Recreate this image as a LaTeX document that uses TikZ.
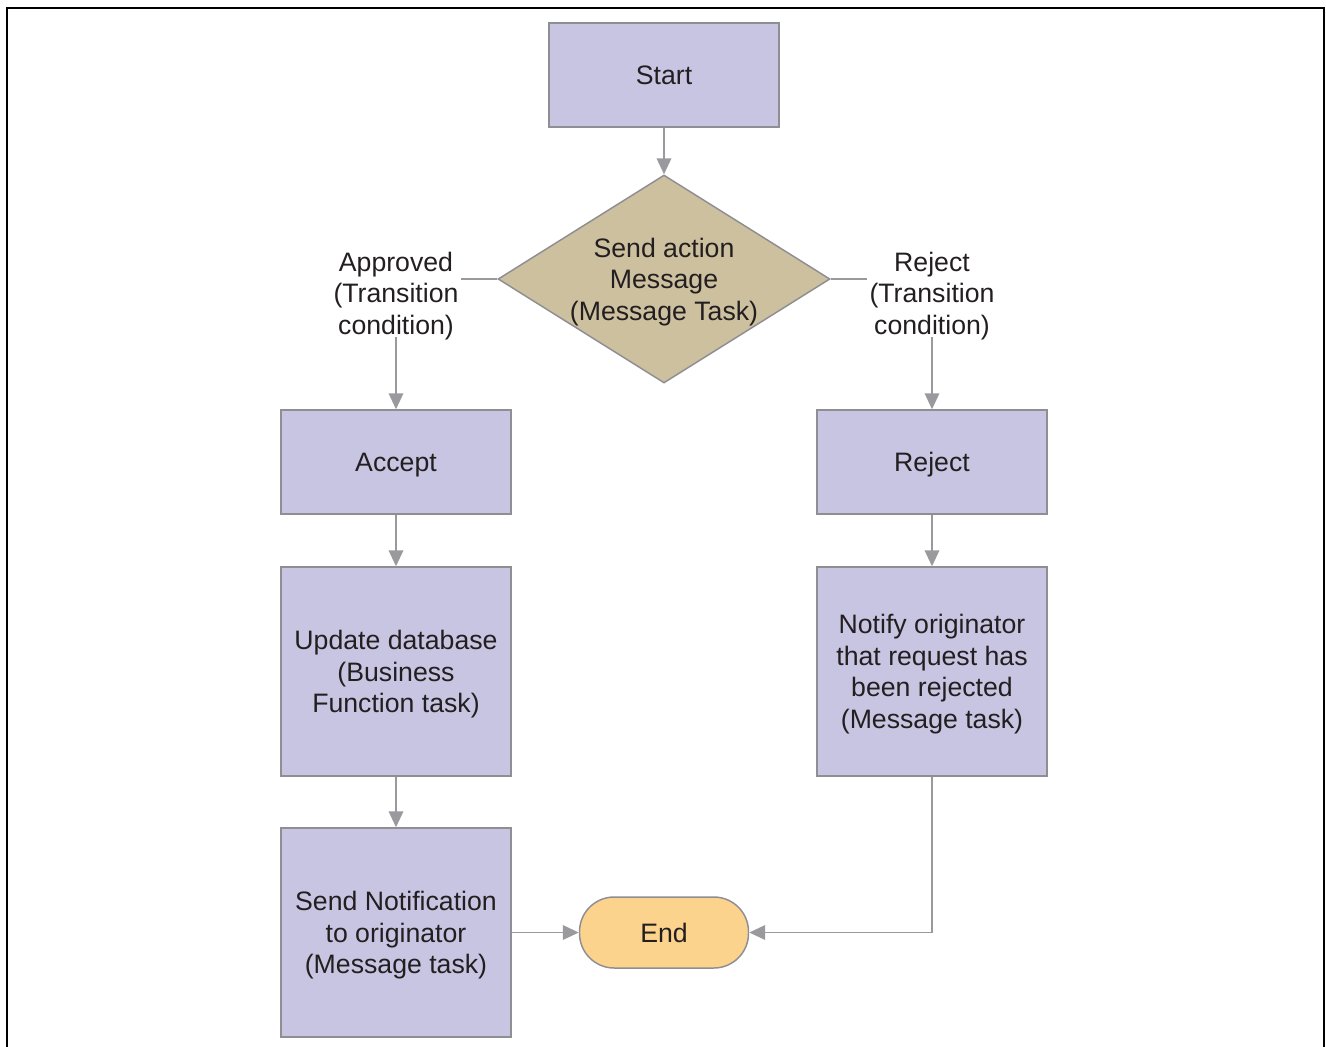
\documentclass[tikz,border=0pt]{standalone}
\usepackage{fontspec}
\setmainfont{Liberation Sans}
\usetikzlibrary{shapes.geometric,arrows.meta}
\definecolor{boxfill}{HTML}{C8C5E2}
\definecolor{boxline}{HTML}{8E8E93}
\definecolor{decfill}{HTML}{CDC09F}
\definecolor{endfill}{HTML}{FBD38D}
\definecolor{flowgray}{HTML}{9A9A9E}
\definecolor{ink}{HTML}{231F20}
\tikzset{
  txt/.style={font=\fontsize{20}{23.6}\selectfont,text=ink,align=center,text depth=0pt},
  task/.style={txt,draw=boxline,fill=boxfill,line width=1.1pt,inner sep=0pt,minimum width=172.5pt,minimum height=78pt},
  tall/.style={task,minimum height=156.75pt},
  decision/.style={diamond,draw=boxline,fill=decfill,line width=1.1pt,inner sep=0pt,minimum width=249pt,minimum height=156pt},
  terminal/.style={txt,draw=boxline,fill=endfill,line width=1.1pt,rounded corners=26pt,minimum width=126.75pt,minimum height=53.25pt},
  cond/.style={txt,inner sep=2pt},
  flow/.style={draw=flowgray,line width=1.1pt,-{Triangle[length=12pt,width=11pt]}},
  link/.style={draw=flowgray,line width=1.1pt}
}
\begin{document}
\begin{tikzpicture}[x=0.75pt,y=-0.75pt]
\useasboundingbox (0,0) rectangle (1326,1046);
\draw[line width=1.8pt] (7,7.7) rectangle (1323.8,1060);
% boxes
\node[task] (start) at (664,75) {Start};
\node[decision,label={[txt]center:Send action\\Message\\(Message Task)}] (dec) at (664,279) {};
\node[cond] (appr) at (396,293) {Approved\\(Transition\\condition)};
\node[cond] (rejl) at (932,293) {Reject\\(Transition\\condition)};
\node[task] (accept) at (396,462) {Accept};
\node[task] (reject) at (932,462) {Reject};
\node[tall] (update) at (396,671.5) {Update database\\(Business\\Function task)};
\node[tall] (notify) at (932,671.5) {Notify originator\\that request has\\been rejected\\(Message task)};
\node[tall] (sendn) at (396,932.5) {Send Notification\\to originator\\(Message task)};
\node[terminal] (end) at (664,932.5) {End};
% connectors
\draw[flow] (start) -- (dec);
\draw[link] (dec.west) -- (dec.west -| appr.east);
\draw[link] (dec.east) -- (dec.east -| rejl.west);
\draw[flow] (appr) -- (accept);
\draw[flow] (rejl) -- (reject);
\draw[flow] (accept) -- (update);
\draw[flow] (update) -- (sendn);
\draw[flow] (reject) -- (notify);
\draw[flow] (sendn) -- (end);
\draw[flow] (notify.south) |- (end.east);
\end{tikzpicture}
\end{document}
